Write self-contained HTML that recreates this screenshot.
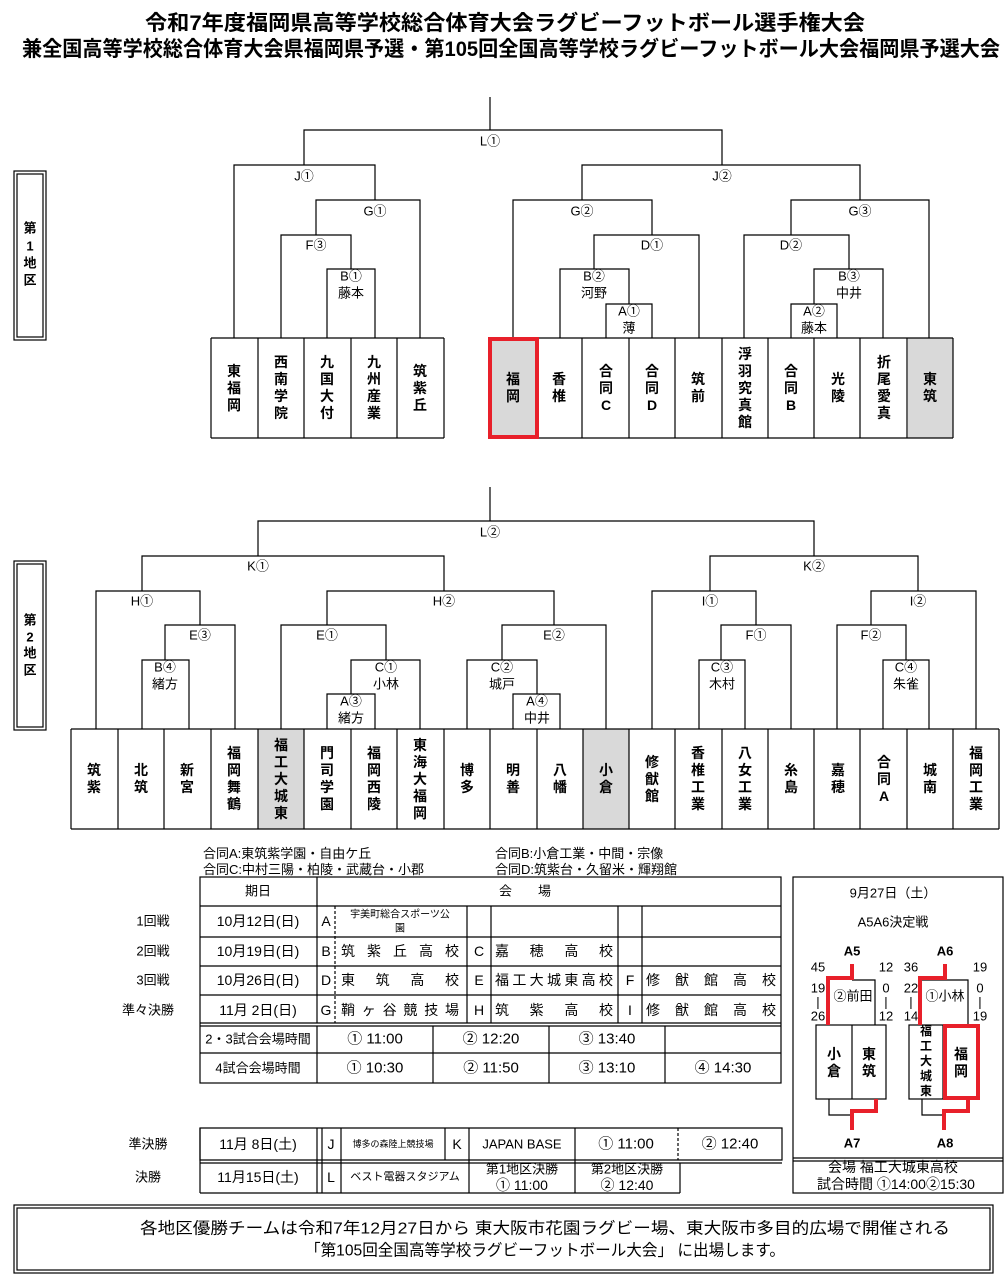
<!DOCTYPE html>
<html><head><meta charset="utf-8"><style>
html,body{margin:0;padding:0;background:#fff;}
svg{display:block;font-family:"Liberation Sans","Noto Sans CJK JP",sans-serif;}
</style></head><body>
<svg width="1007" height="1281" viewBox="0 0 1007 1281" xmlns="http://www.w3.org/2000/svg">
<g fill="#000">
<text x="505" y="30" font-size="21" font-weight="bold" text-anchor="middle" textLength="720" lengthAdjust="spacingAndGlyphs">令和7年度福岡県高等学校総合体育大会ラグビーフットボール選手権大会</text>
<text x="511" y="56" font-size="21" font-weight="bold" text-anchor="middle" textLength="978" lengthAdjust="spacingAndGlyphs">兼全国高等学校総合体育大会県福岡県予選・第105回全国高等学校ラグビーフットボール大会福岡県予選大会</text>
</g>

<g fill="none" stroke="#000" stroke-width="1.2">
<rect x="14" y="171" width="32" height="169"/><rect x="17" y="174" width="26" height="163"/>
<rect x="14" y="561" width="32" height="169"/><rect x="17" y="564" width="26" height="163"/>
</g>
<g font-size="13" font-weight="bold" text-anchor="middle" dominant-baseline="central">
<text x="30" y="228">第</text><text x="30" y="246">1</text><text x="30" y="263">地</text><text x="30" y="280">区</text>
<text x="30" y="620">第</text><text x="30" y="637">2</text><text x="30" y="653">地</text><text x="30" y="670">区</text>
</g>

<rect x="908" y="338" width="45" height="100" fill="#d9d9d9"/>
<rect x="258" y="729" width="46" height="100" fill="#d9d9d9"/>
<rect x="583" y="729" width="46" height="100" fill="#d9d9d9"/>
<rect x="491" y="340" width="45" height="96" fill="#d9d9d9"/>

<g fill="none" stroke="#000" stroke-width="1.2">
<path d="M490 97V130"/>
<path d="M304 165V130H722V165"/>
<path d="M234 338V165H375V200"/>
<path d="M316 235V200H420V338"/>
<path d="M281 338V235H351V269"/>
<path d="M327 338V269H375V338"/>
<path d="M582 200V165H860V200"/>
<path d="M513 338V200H652V235"/>
<path d="M594 269V235H699V338"/>
<path d="M560 338V269H629V304"/>
<path d="M606 338V304H652V338"/>
<path d="M791 235V200H929V338"/>
<path d="M744 338V235H849V269"/>
<path d="M814 304V269H883V338"/>
<path d="M791 338V304H837V338"/>
<path d="M211 338H444M211 438H444M490 338H953M490 438H953"/>
<path d="M211 338V438M258 338V438M304 338V438M351 338V438M397 338V438M444 338V438"/>
<path d="M536 338V438M582 338V438M629 338V438M675 338V438M722 338V438M768 338V438M814 338V438M860 338V438M907 338V438M953 338V438"/>
</g>
<rect x="490" y="339" width="47" height="98" fill="none" stroke="#e8202a" stroke-width="4"/>

<g font-size="13" text-anchor="middle" dominant-baseline="central">
<text x="490" y="141">L①</text>
<text x="304" y="176">J①</text>
<text x="375" y="211">G①</text>
<text x="316" y="245">F③</text>
<text x="351" y="276">B①</text><text x="351" y="293">藤本</text>
<text x="722" y="176">J②</text>
<text x="582" y="211">G②</text>
<text x="652" y="245">D①</text>
<text x="594" y="276">B②</text><text x="594" y="293">河野</text>
<text x="629" y="311">A①</text><text x="629" y="328">薄</text>
<text x="860" y="211">G③</text>
<text x="791" y="245">D②</text>
<text x="849" y="276">B③</text><text x="849" y="293">中井</text>
<text x="814" y="311">A②</text><text x="814" y="328">藤本</text>
</g>

<g font-size="14" font-weight="bold" text-anchor="middle" dominant-baseline="central">
<text x="234" y="371">東</text><text x="234" y="388">福</text><text x="234" y="405">岡</text>
<text x="281" y="362">西</text><text x="281" y="379">南</text><text x="281" y="396">学</text><text x="281" y="413">院</text>
<text x="327" y="362">九</text><text x="327" y="379">国</text><text x="327" y="396">大</text><text x="327" y="413">付</text>
<text x="374" y="362">九</text><text x="374" y="379">州</text><text x="374" y="396">産</text><text x="374" y="413">業</text>
<text x="420" y="371">筑</text><text x="420" y="388">紫</text><text x="420" y="405">丘</text>
<text x="513" y="379">福</text><text x="513" y="396">岡</text>
<text x="559" y="379">香</text><text x="559" y="396">椎</text>
<text x="606" y="371">合</text><text x="606" y="388">同</text><text x="606" y="405">C</text>
<text x="652" y="371">合</text><text x="652" y="388">同</text><text x="652" y="405">D</text>
<text x="698" y="379">筑</text><text x="698" y="396">前</text>
<text x="745" y="354">浮</text><text x="745" y="371">羽</text><text x="745" y="388">究</text><text x="745" y="405">真</text><text x="745" y="422">館</text>
<text x="791" y="371">合</text><text x="791" y="388">同</text><text x="791" y="405">B</text>
<text x="838" y="379">光</text><text x="838" y="396">陵</text>
<text x="884" y="362">折</text><text x="884" y="379">尾</text><text x="884" y="396">愛</text><text x="884" y="413">真</text>
<text x="930" y="379">東</text><text x="930" y="396">筑</text>
</g>

<g fill="none" stroke="#000" stroke-width="1.2">
<path d="M490 487V521"/>
<path d="M258 556V521H814V556"/>
<path d="M142 591V556H444V591"/>
<path d="M96 729V591H200V625"/>
<path d="M165 660V625H235V729"/>
<path d="M142 729V660H189V729"/>
<path d="M327 625V591H554V625"/>
<path d="M281 729V625H386V660"/>
<path d="M351 694V660H420V729"/>
<path d="M327 729V694H375V729"/>
<path d="M502 660V625H606V729"/>
<path d="M467 729V660H537V694"/>
<path d="M513 729V694H560V729"/>
<path d="M710 591V556H918V591"/>
<path d="M652 729V591H756V625"/>
<path d="M721 660V625H791V729"/>
<path d="M699 729V660H745V729"/>
<path d="M871 625V591H976V729"/>
<path d="M837 729V625H906V660"/>
<path d="M883 729V660H929V729"/>
<path d="M71 729H999M71 829H999"/>
<path d="M71 729V829M118 729V829M164 729V829M211 729V829M258 729V829M304 729V829M351 729V829M397 729V829M444 729V829M490 729V829M537 729V829M583 729V829M629 729V829M675 729V829M722 729V829M768 729V829M814 729V829M860 729V829M907 729V829M953 729V829M999 729V829"/>
</g>
<g font-size="13" text-anchor="middle" dominant-baseline="central">
<text x="490" y="532">L②</text>
<text x="258" y="566">K①</text>
<text x="142" y="601">H①</text>
<text x="200" y="635">E③</text>
<text x="165" y="667">B④</text><text x="165" y="684">緒方</text>
<text x="444" y="601">H②</text>
<text x="327" y="635">E①</text>
<text x="386" y="667">C①</text><text x="386" y="684">小林</text>
<text x="351" y="701">A③</text><text x="351" y="718">緒方</text>
<text x="554" y="635">E②</text>
<text x="502" y="667">C②</text><text x="502" y="684">城戸</text>
<text x="537" y="701">A④</text><text x="537" y="718">中井</text>
<text x="814" y="566">K②</text>
<text x="710" y="601">I①</text>
<text x="756" y="635">F①</text>
<text x="722" y="667">C③</text><text x="722" y="684">木村</text>
<text x="918" y="601">I②</text>
<text x="871" y="635">F②</text>
<text x="906" y="667">C④</text><text x="906" y="684">朱雀</text>
</g>
<g font-size="14" font-weight="bold" text-anchor="middle" dominant-baseline="central">
<text x="94" y="770">筑</text><text x="94" y="787">紫</text>
<text x="141" y="770">北</text><text x="141" y="787">筑</text>
<text x="187" y="770">新</text><text x="187" y="787">宮</text>
<text x="234" y="753">福</text><text x="234" y="770">岡</text><text x="234" y="787">舞</text><text x="234" y="804">鶴</text>
<text x="281" y="745">福</text><text x="281" y="762">工</text><text x="281" y="779">大</text><text x="281" y="796">城</text><text x="281" y="813">東</text>
<text x="327" y="753">門</text><text x="327" y="770">司</text><text x="327" y="787">学</text><text x="327" y="804">園</text>
<text x="374" y="753">福</text><text x="374" y="770">岡</text><text x="374" y="787">西</text><text x="374" y="804">陵</text>
<text x="420" y="745">東</text><text x="420" y="762">海</text><text x="420" y="779">大</text><text x="420" y="796">福</text><text x="420" y="813">岡</text>
<text x="467" y="770">博</text><text x="467" y="787">多</text>
<text x="513" y="770">明</text><text x="513" y="787">善</text>
<text x="560" y="770">八</text><text x="560" y="787">幡</text>
<text x="606" y="770">小</text><text x="606" y="787">倉</text>
<text x="652" y="762">修</text><text x="652" y="779">猷</text><text x="652" y="796">館</text>
<text x="698" y="753">香</text><text x="698" y="770">椎</text><text x="698" y="787">工</text><text x="698" y="804">業</text>
<text x="745" y="753">八</text><text x="745" y="770">女</text><text x="745" y="787">工</text><text x="745" y="804">業</text>
<text x="791" y="770">糸</text><text x="791" y="787">島</text>
<text x="838" y="770">嘉</text><text x="838" y="787">穂</text>
<text x="884" y="762">合</text><text x="884" y="779">同</text><text x="884" y="796">A</text>
<text x="930" y="770">城</text><text x="930" y="787">南</text>
<text x="976" y="753">福</text><text x="976" y="770">岡</text><text x="976" y="787">工</text><text x="976" y="804">業</text>
</g>

<g font-size="13">
<text x="203" y="858">合同A:東筑紫学園・自由ケ丘</text>
<text x="203" y="874">合同C:中村三陽・柏陵・武蔵台・小郡</text>
<text x="495" y="858">合同B:小倉工業・中間・宗像</text>
<text x="495" y="874">合同D:筑紫台・久留米・輝翔館</text>
</g>

<g fill="none" stroke="#000" stroke-width="1.2">
<rect x="200" y="877" width="581" height="206"/>
<path d="M200 906H781M200 937H781M200 966H781M200 995H781M200 1023H781M200 1026H781M200 1053H781"/>
<path d="M317 877V1023M467 906V1023M491 906V1023M618 906V1023M642 906V1023"/>
<path d="M335 906V1023" stroke-dasharray="3,2"/>
<path d="M317 1026V1083M433 1026V1083M549 1026V1083M665 1026V1083"/>
<path d="M200 1128H782V1160H200ZM200 1163H782"/>
<path d="M200 1128V1193M317 1128V1193M322 1128V1193M341 1128V1193M469 1128V1193M575 1128V1193M680 1163V1193M445 1128V1160"/>
<path d="M678 1128V1160" stroke-dasharray="3,2"/>
<path d="M200 1193H680"/>
</g>
<g font-size="13" text-anchor="middle" dominant-baseline="central">
<text x="153" y="921">1回戦</text>
<text x="153" y="951">2回戦</text>
<text x="153" y="980">3回戦</text>
<text x="148" y="1010">準々決勝</text>
<text x="258" y="891">期日</text>
<text x="258" y="921" font-size="14">10月12日(日)</text>
<text x="258" y="951" font-size="14">10月19日(日)</text>
<text x="258" y="980" font-size="14">10月26日(日)</text>
<text x="258" y="1010" font-size="14">11月 2日(日)</text>
<text x="525" y="891">会　　場</text>
<text x="326" y="921" font-size="14">A</text><text x="326" y="951" font-size="14">B</text><text x="326" y="980" font-size="14">D</text><text x="326" y="1010" font-size="14">G</text>
<text x="479" y="951" font-size="14">C</text><text x="479" y="980" font-size="14">E</text><text x="479" y="1010" font-size="14">H</text>
<text x="630" y="980" font-size="14">F</text><text x="630" y="1010" font-size="14">I</text>
<text x="400" y="915" font-size="10">宇美町総合スポーツ公</text>
<text x="400" y="929" font-size="10">園</text>
<text x="258" y="1039">2・3試合会場時間</text>
<text x="258" y="1068">4試合会場時間</text>
<g font-size="15">
<text x="375" y="1039">①  11:00</text><text x="491" y="1039">②  12:20</text><text x="607" y="1039">③  13:40</text>
<text x="375" y="1068">①  10:30</text><text x="491" y="1068">②  11:50</text><text x="607" y="1068">③  13:10</text><text x="723" y="1068">④  14:30</text>
</g>
<text x="148" y="1144">準決勝</text>
<text x="148" y="1177">決勝</text>
<text x="258" y="1144" font-size="14">11月  8日(土)</text>
<text x="258" y="1177" font-size="14">11月15日(土)</text>
<text x="331" y="1144" font-size="14">J</text><text x="331" y="1177" font-size="14">L</text>
<text x="457" y="1144" font-size="14">K</text>
<text x="393" y="1144" font-size="9">博多の森陸上競技場</text>
<text x="405" y="1177" font-size="11">ベスト電器スタジアム</text>
<text x="522" y="1144" font-size="13">JAPAN BASE</text>
<text x="626" y="1144" font-size="15">①  11:00</text>
<text x="730" y="1144" font-size="15">②  12:40</text>
<text x="522" y="1169">第1地区決勝</text><text x="522" y="1185" font-size="14">①  11:00</text>
<text x="627" y="1169">第2地区決勝</text><text x="627" y="1185" font-size="14">②  12:40</text>
</g>
<g font-size="14" dominant-baseline="central">
<text x="341" y="951" textLength="118" lengthAdjust="spacing">筑紫丘高校</text>
<text x="341" y="980" textLength="118" lengthAdjust="spacing">東筑高校</text>
<text x="341" y="1010" textLength="118" lengthAdjust="spacing">鞘ヶ谷競技場</text>
<text x="495" y="951" textLength="118" lengthAdjust="spacing">嘉穂高校</text>
<text x="495" y="980" textLength="118" lengthAdjust="spacing">福工大城東高校</text>
<text x="495" y="1010" textLength="118" lengthAdjust="spacing">筑紫高校</text>
<text x="646" y="980" textLength="130" lengthAdjust="spacing">修猷館高校</text>
<text x="646" y="1010" textLength="130" lengthAdjust="spacing">修猷館高校</text>
</g>

<g fill="none" stroke="#000" stroke-width="1.2">
<rect x="793" y="877" width="210" height="316"/>
<path d="M793 1158H1003M793 1161H1003"/>
<path d="M852 980H875V1025M920 980H968V1025"/>
<rect x="816" y="1025" width="70" height="74"/><path d="M852 1025V1099"/>
<rect x="909" y="1025" width="70" height="74"/><path d="M943 1025V1099"/>
<path d="M829 1099V1115H852M922 1099V1115H944"/>
</g>
<g fill="none" stroke="#e8202a" stroke-width="4">
<path d="M852 964V978H828V1025"/>
<path d="M945 964V978H920V1025"/>
<path d="M876 1099V1111H852V1130"/>
<path d="M968 1099V1111H944V1130"/>
<rect x="945" y="1026" width="33" height="72"/>
</g>
<g font-size="13" text-anchor="middle" dominant-baseline="central">
<text x="893" y="893">9月27日（土）</text>
<text x="893" y="922">A5A6決定戦</text>
<text x="852" y="951" font-weight="bold">A5</text>
<text x="945" y="951" font-weight="bold">A6</text>
<text x="852" y="1143" font-weight="bold">A7</text>
<text x="945" y="1143" font-weight="bold">A8</text>
<text x="818" y="967">45</text><text x="886" y="967">12</text><text x="911" y="967">36</text><text x="980" y="967">19</text>
<text x="818" y="988">19</text><text x="818" y="1002">|</text><text x="818" y="1016">26</text>
<text x="886" y="988">0</text><text x="886" y="1002">|</text><text x="886" y="1016">12</text>
<text x="911" y="988">22</text><text x="911" y="1002">|</text><text x="911" y="1016">14</text>
<text x="980" y="988">0</text><text x="980" y="1002">|</text><text x="980" y="1016">19</text>
<text x="853" y="996">②前田</text>
<text x="945" y="996">①小林</text>
<text x="893" y="1167" font-size="14">会場  福工大城東高校</text>
<text x="896" y="1184" font-size="14">試合時間  ①14:00②15:30</text>
</g>
<g font-size="14" font-weight="bold" text-anchor="middle" dominant-baseline="central">
<text x="834" y="1054">小</text><text x="834" y="1071">倉</text>
<text x="869" y="1054">東</text><text x="869" y="1071">筑</text>
<text x="926" y="1031" font-size="12">福</text><text x="926" y="1046" font-size="12">工</text><text x="926" y="1061" font-size="12">大</text><text x="926" y="1076" font-size="12">城</text><text x="926" y="1091" font-size="12">東</text>
<text x="961" y="1054">福</text><text x="961" y="1071">岡</text>
</g>

<g fill="none" stroke="#000" stroke-width="1.2">
<rect x="14" y="1205" width="979" height="68"/>
<rect x="17" y="1208" width="973" height="62"/>
</g>
<g font-size="16" text-anchor="middle" dominant-baseline="central">
<text x="545" y="1229" textLength="810" lengthAdjust="spacingAndGlyphs">各地区優勝チームは令和7年12月27日から 東大阪市花園ラグビー場、東大阪市多目的広場で開催される</text>
<text x="545" y="1251" textLength="480" lengthAdjust="spacingAndGlyphs">「第105回全国高等学校ラグビーフットボール大会」 に出場します。</text>
</g>
</svg>
</body></html>
